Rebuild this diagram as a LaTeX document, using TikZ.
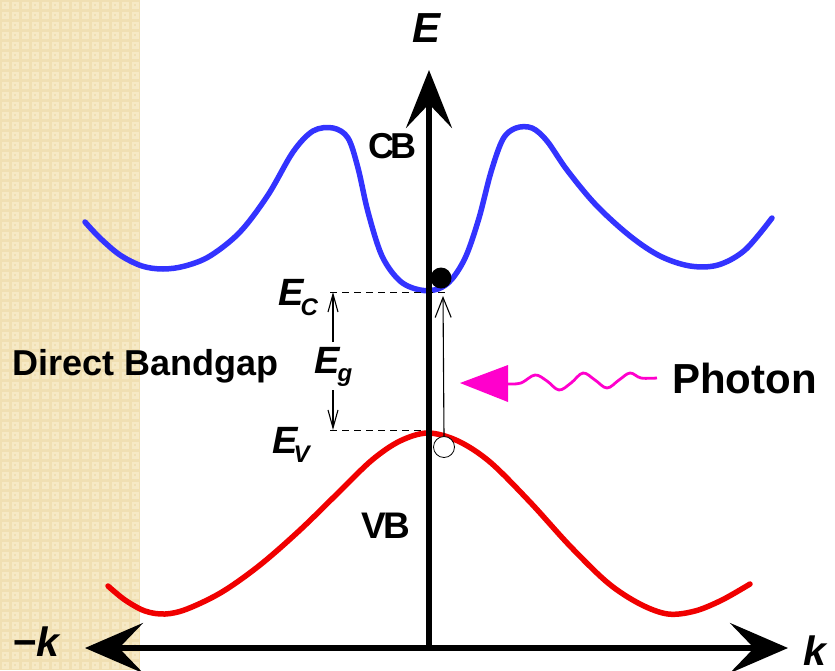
\documentclass[tikz,border=0pt]{standalone}
\usepackage{fontspec}
\setmainfont{Liberation Sans}
\usetikzlibrary{arrows.meta}
\definecolor{bandblue}{RGB}{51,51,255}
\definecolor{bandred}{RGB}{240,0,0}
\definecolor{photonpink}{RGB}{255,0,204}
\definecolor{beigebase}{RGB}{240,223,178}
\definecolor{beigelite}{RGB}{246,233,197}
\newcommand\myfs[1]{\fontsize{#1}{#1}\selectfont}
\begin{document}
\begin{tikzpicture}[x=1pt,y=-1pt,
  bandcurve/.style={line width=5.5pt, line cap=round, line join=round},
  axisline/.style={line width=6pt, -{Stealth[length=58pt,width=46pt,inset=24pt]}},
  thinarrow/.style={line width=1.1pt},
  levelline/.style={line width=0.9pt, dash pattern=on 7pt off 5pt},
  lbl/.style={inner sep=0pt, anchor=base west, font=\bfseries},
  ilbl/.style={inner sep=0pt, anchor=base west, font=\bfseries\itshape}]
\useasboundingbox (0,0) rectangle (835,670);
% background strip
\fill[beigebase] (0,0) rectangle (140,670);
\foreach \i in {0,...,13} \foreach \j in {0,...,66} {
  \fill[beigelite] (\i*10+1.5,\j*10+1.5) rectangle +(7,7);
  \fill[beigebase] (\i*10+4,\j*10+4) rectangle +(2,2);
}
% coordinates of axes
\coordinate (origin) at (429,648);
\coordinate (etip) at (429,70);
\coordinate (kleft) at (85,648);
\coordinate (kright) at (788,648);
% bands
\draw[bandcurve, bandblue] plot[smooth, tension=0.55] coordinates {
 (85,222) (100,238) (120,255) (142,266) (163,269) (185,266) (210,256)
 (240,232) (268,195) (293,152) (313,131) (333,128) (348,138) (358,168)
 (368,212) (382,256) (400,281) (420,290) (438,289) (452,279) (466,256)
 (479,218) (491,172) (503,139) (516,128) (532,128) (547,141) (567,170)
 (596,205) (630,236) (660,256) (690,266) (718,265) (745,250) (772,218)};
\draw[bandcurve, bandred] plot[smooth, tension=0.55] coordinates {
 (108,586) (125,600) (145,611) (165,614) (187,609) (222,592) (260,565)
 (300,530) (340,491) (372,460) (400,441) (428,433) (458,441) (490,462)
 (530,502) (570,546) (608,583) (640,604) (668,614) (695,611) (722,600) (750,584)};
% axes
\draw[axisline] (origin) -- (etip);
\draw[line width=6pt, {Stealth[length=58pt,width=50pt,inset=24pt]}-{Stealth[length=58pt,width=50pt,inset=24pt]}] (kleft) -- (kright);
% levels
\coordinate (ecl) at (330,292);
\coordinate (ecr) at (447,292);
\coordinate (evl) at (330,430);
\coordinate (evr) at (430,430);
\draw[levelline] (ecl) -- (ecr);
\draw[levelline] (evl) -- (evr);
% Eg arrows
\coordinate (egtop) at (333,292);
\coordinate (egmidt) at (333,342);
\coordinate (egmidb) at (333,390);
\coordinate (egbot) at (333,430);
\draw[thinarrow, -{Straight Barb[length=18pt,width=10pt]}] (egmidt) -- (egtop);
\draw[thinarrow, -{Straight Barb[length=18pt,width=10pt]}] (egmidb) -- (egbot);
% electron and hole
\node[circle, fill=black, minimum size=21pt, inner sep=0pt] (electron) at (441,278) {};
\node[circle, draw=black, fill=white, line width=0.8pt, minimum size=21pt, inner sep=0pt] (hole) at (444,447) {};
\coordinate (abstip) at (443,296);
\draw[thinarrow, -{Straight Barb[length=20pt,width=16pt]}] (hole.north) -- (abstip);
% photon
\coordinate (ptip) at (460,383);
\fill[photonpink] (ptip) -- (508,365) -- (508,402) -- cycle;
\draw[photonpink, line width=2.8pt, line join=round] plot[smooth, tension=0.6] coordinates {
 (508,384) (521,383) (535,375) (547,381) (559,390) (571,383) (583,373)
 (595,380) (607,388) (619,380) (630,373) (641,378) (657,378)};
% labels
\node[ilbl] (elabel) at (412,42) {\myfs{42}E};
\node[ilbl] (mklabel) at (12,656) {\myfs{41}−k};
\node[ilbl] (klabel) at (803,665) {\myfs{41}k};
\node[lbl] (cb) at (368,158) {\myfs{36}C\kern-4pt B};
\node[lbl] (vb) at (361,538) {\myfs{37}V\kern-2pt B};
\node[lbl] (direct) at (12,375) {\myfs{36}Direct Bandgap};
\node[lbl] (photon) at (672,393) {\myfs{42}Photon};
\node[ilbl] (ec) at (278,305) {\myfs{38}E\kern-3pt\raisebox{-10pt}{\myfs{24}C}};
\node[ilbl] (eg) at (314,373) {\myfs{38}E\kern-2pt\raisebox{-8pt}{\myfs{24}g}};
\node[ilbl] (ev) at (272,453) {\myfs{38}E\kern-4pt\raisebox{-9pt}{\myfs{24}V}};
\end{tikzpicture}
\end{document}
